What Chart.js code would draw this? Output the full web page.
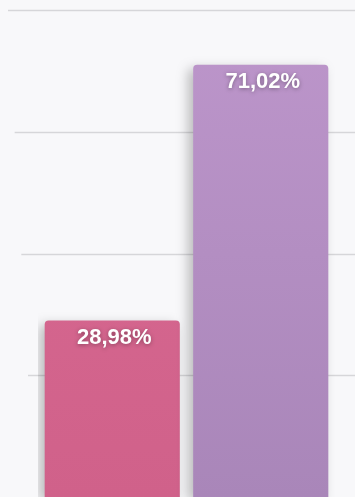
<!DOCTYPE html>
<html lang="en">
  <head>
    <meta charset="UTF-8" />
    <title>Share chart</title>
    <script src="https://cdn.jsdelivr.net/npm/chart.js"></script>
    <style>
      html, body { margin: 0; padding: 0; background: #f8f8fa; }
      #wrap { width: 355px; height: 497px; }
    </style>
  </head>
  <body>
    <div id="wrap"><canvas id="chart"></canvas></div>
    <script>
      // data
      const categories = ["A", "B"];
      const shares = [28.98, 71.02];
      const barColors = ["#da6b93", "#bd96cb"];
      const barColorsDark = ["#d0618a", "#a986b9"];
      const yTicks = [0, 20, 40, 60, 80];

      function fmt(v) {
        return v.toFixed(2).replace(".", ",") + "%";
      }

      // grid lines across the full width, from the y scale
      const gridPlugin = {
        id: "fullGrid",
        beforeDatasetsDraw(chart) {
          const ctx = chart.ctx;
          const y = chart.scales.y;
          ctx.save();
          yTicks.forEach((t) => {
            if (t === 0) return;
            const py = Math.round(y.getPixelForValue(t)) + 0.5;
            ctx.strokeStyle = "#d6d6d9";
            ctx.lineWidth = 1.5;
            ctx.beginPath();
            ctx.moveTo(8 + (80 - t) / 3, py);
            ctx.lineTo(chart.width, py);
            ctx.stroke();
          });
          ctx.restore();
          // shadow for bars
          ctx.save();
          ctx.shadowColor = "rgba(0,0,0,0.25)";
          ctx.shadowBlur = 12;
          ctx.shadowOffsetX = -5;
          ctx.shadowOffsetY = 4;
        },
        afterDatasetsDraw(chart) {
          const ctx = chart.ctx;
          ctx.restore();
          // value labels
          const meta = chart.getDatasetMeta(0);
          ctx.save();
          ctx.font = "bold 22px 'Liberation Sans', Arial, sans-serif";
          ctx.textAlign = "center";
          ctx.textBaseline = "middle";
          ctx.fillStyle = "#ffffff";
          ctx.shadowColor = "rgba(0,0,0,0.35)";
          ctx.shadowBlur = 4;
          ctx.shadowOffsetY = 1;
          meta.data.forEach((bar, i) => {
            ctx.fillText(fmt(shares[i]), bar.x + 2, bar.y + 17);
          });
          ctx.restore();
        }
      };

      new Chart(document.getElementById("chart"), {
        type: "bar",
        data: {
          labels: categories,
          datasets: [{
            data: shares,
            backgroundColor: (c) => {
              const area = c.chart.chartArea;
              if (!area) return barColors[c.dataIndex];
              const g = c.chart.ctx.createLinearGradient(0, area.top, 0, area.bottom);
              g.addColorStop(0, barColors[c.dataIndex]);
              g.addColorStop(1, barColorsDark[c.dataIndex]);
              return g;
            },
            borderRadius: { topLeft: 4, topRight: 4 },
            borderSkipped: "bottom",
            categoryPercentage: 1,
            barPercentage: 0.91
          }]
        },
        options: {
          responsive: true,
          maintainAspectRatio: false,
          animation: false,
          layout: { padding: { left: 38, right: 20, top: 10, bottom: 0 } },
          plugins: { legend: { display: false }, tooltip: { enabled: false } },
          scales: {
            x: { display: false },
            y: {
              display: false,
              min: 0,
              max: 80,
              ticks: { stepSize: 20 }
            }
          }
        },
        plugins: [gridPlugin]
      });
    </script>
  </body>
</html>
